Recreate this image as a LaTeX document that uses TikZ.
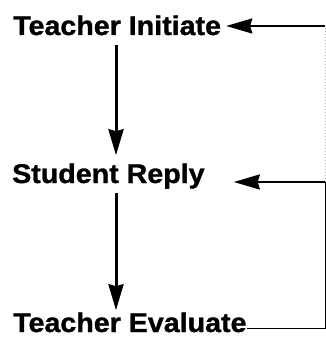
\documentclass[tikz,border=0pt]{standalone}
\usepackage{fontspec}
\usetikzlibrary{arrows.meta}
\newfontfamily\diagfont[FakeStretch=1.06,FakeBold=1.2]{Liberation Sans}

\begin{document}
\begin{tikzpicture}[x=1pt,y=-1pt,
    word/.style={inner sep=0pt, anchor=base west, font=\diagfont\bfseries\fontsize{27}{30}\selectfont},
    down/.style={line width=3pt, -{Stealth[length=26pt,width=15pt,inset=2pt]}},
    back/.style={line width=2pt, -{Stealth[length=26pt,width=15pt,inset=2pt]}},
    rim/.style={line width=1pt}]

    \useasboundingbox (0,0) rectangle (326,337);

    \node[word] (ti) at (13,35) {Teacher Initiate};
    \node[word] (sr) at (12,183) {Student Reply};
    \node[word] (te) at (13,332) {Teacher Evaluate};

    \coordinate (col) at (116,0);
    \coordinate (rt) at (325,26);
    \coordinate (rm) at (325,182);
    \coordinate (rb) at (325,328);

    \draw[down, shorten <=10pt, shorten >=8pt] (ti.south -| col) -- (sr.north -| col);
    \draw[down, shorten <=4pt, shorten >=2pt] (sr.south -| col) -- (te.north -| col);

	% loop back on the right
    \draw[rim] (te.east |- rb) -- (rb) -- (rm);
    \draw[rim, gray!60, dotted] (rm) -- (rt);
    \draw[back, shorten >=5pt] (rt) -- (rt -| ti.east);
    \draw[back, shorten >=29pt] (rm) -- (rm -| sr.east);
\end{tikzpicture}
\end{document}
